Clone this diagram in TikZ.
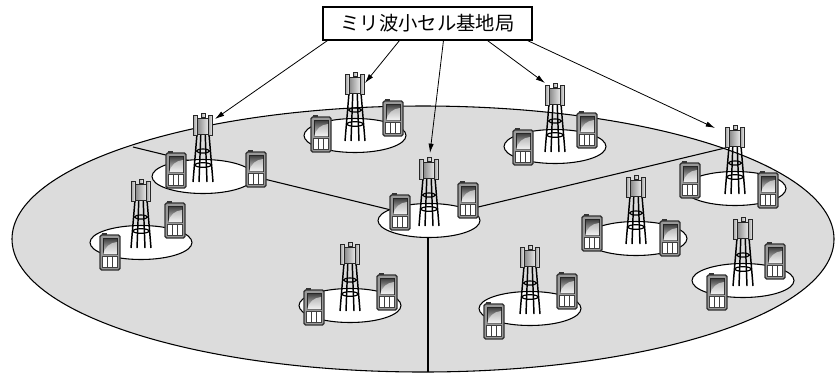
\documentclass[tikz,border=0pt]{standalone}
\usepackage{fontspec}
\newfontfamily\jpfont{Noto Sans CJK JP}
\usetikzlibrary{arrows.meta,calc}
\definecolor{field}{HTML}{DCDCDC}
\begin{document}
\begin{tikzpicture}[x=0.75pt,y=-0.75pt,
  outline/.style={line width=0.8pt},
  cellarea/.style={draw=black, fill=white, line width=0.8pt},
  leg/.style={line width=1.1pt},
  ring/.style={line width=0.9pt},
  panel/.style={draw=black!85, line width=0.4pt, left color=black!35, right color=black!6},
  mast/.style={draw=black!85, line width=0.4pt, left color=black!45, right color=black!8},
  arr/.style={-{Latex[length=7pt,width=4pt]}, line width=0.6pt},
  % one small cell: coverage ellipse and its base-station tower (origin = tower top)
  cell/.pic={
    \draw[cellarea] (0,63.5) ellipse (51 and 17);
    \draw[leg] (-6,21) -- (-10,69);
    \draw[leg] (6,21) -- (10,69);
    \draw[leg] (-2.2,21) -- (-4,69);
    \draw[leg] (2.2,21) -- (4,69);
    \draw[ring] (0,38) ellipse (6.5 and 2);
    \draw[ring] (0,52) ellipse (8 and 2.3);
    \draw[panel] (-2,0) rectangle (2,4);
    \draw[panel] (-9.5,2) rectangle (-5.5,22);
    \draw[panel] (5.5,2) rectangle (9.5,22);
    \draw[mast] (-5.5,5) rectangle (5.5,21);
  },
  % handset (origin = centre)
  phone/.pic={
    \fill[black!80] (-8,-19) rectangle (-3,-16.5);
    \draw[line width=1.1pt, draw=black!80, fill=black!40, rounded corners=1.2pt] (-10,-17) rectangle (10,18);
    \draw[line width=0.5pt, draw=black!85, top color=black!75, bottom color=black!10] (-7,-13.5) rectangle (7,2.5);
    \fill[white, opacity=0.55] (7,-10) .. controls (0,-9.5) and (-5,-5) .. (-7,2.5) -- (7,2.5) -- cycle;
    \fill[black!75] (-7.6,4.2) rectangle (7.6,15.6);
    \foreach \i in {0,1,2} \foreach \j in {0,1}
      \fill[white] ({-7+4.8*\i},{4.8+5.4*\j}) rectangle ++(4.2,4.8);
  }
]
\useasboundingbox (0,0) rectangle (837,376);

% macro-cell area and its three sectors
\draw[outline, fill=field] (423,239) ellipse (411 and 133);
\coordinate (hub) at (428,219);
\coordinate (edgeL) at (133,147);
\coordinate (edgeR) at (725,148);
\coordinate (edgeB) at (428,372);
\draw[outline] (hub) -- (edgeL);
\draw[outline] (hub) -- (edgeR);
\draw[outline] (hub) -- (edgeB);

% small cells
\pic (cA) at (203,113) {cell};
\pic (cB) at (355,72)  {cell};
\pic (cC) at (555,83)  {cell};
\pic (cD) at (735,125) {cell};
\pic (cE) at (141,179) {cell};
\pic (cF) at (429,157) {cell};
\pic (cG) at (636,175) {cell};
\pic (cH) at (350,242) {cell};
\pic (cI) at (530,245) {cell};
\pic (cJ) at (743,217) {cell};

% handsets
\pic (pA1) at (176,170) {phone};
\pic (pA2) at (256,169) {phone};
\pic (pB1) at (321,134) {phone};
\pic (pB2) at (393,118) {phone};
\pic (pC1) at (523,147) {phone};
\pic (pC2) at (587,130) {phone};
\pic (pD1) at (690,180) {phone};
\pic (pD2) at (768,190) {phone};
\pic (pE1) at (110,252) {phone};
\pic (pE2) at (175,220) {phone};
\pic (pF1) at (400,212) {phone};
\pic (pF2) at (468,200) {phone};
\pic (pG1) at (592,233) {phone};
\pic (pG2) at (670,238) {phone};
\pic (pH1) at (314,307) {phone};
\pic (pH2) at (387,292) {phone};
\pic (pI1) at (494,321) {phone};
\pic (pI2) at (567,291) {phone};
\pic (pJ1) at (717,292) {phone};
\pic (pJ2) at (775,261) {phone};

% label
\node[draw, line width=0.8pt, fill=white, minimum width=156.75pt, minimum height=24.75pt,
      inner sep=0pt, font=\jpfont\fontsize{14.5pt}{14.5pt}\selectfont] (label) at (427.5,23.5) {ミリ波小セル基地局};

\coordinate (sA) at ($(label.south west)+(5,0)$);
\coordinate (sB) at ($(label.south west)+(77,0)$);
\coordinate (sF) at ($(label.south west)+(121,0)$);
\coordinate (sC) at ($(label.south west)+(165,0)$);
\coordinate (sD) at ($(label.south west)+(205,0)$);
\coordinate (aimA) at (215,119);
\coordinate (aimB) at (365,83);
\coordinate (aimF) at (430,153);
\coordinate (aimC) at (545,83);
\coordinate (aimD) at (715,128);
\draw[arr] (sA) -- (aimA);
\draw[arr] (sB) -- (aimB);
\draw[arr] (sF) -- (aimF);
\draw[arr] (sC) -- (aimC);
\draw[arr] (sD) -- (aimD);
\end{tikzpicture}
\end{document}
